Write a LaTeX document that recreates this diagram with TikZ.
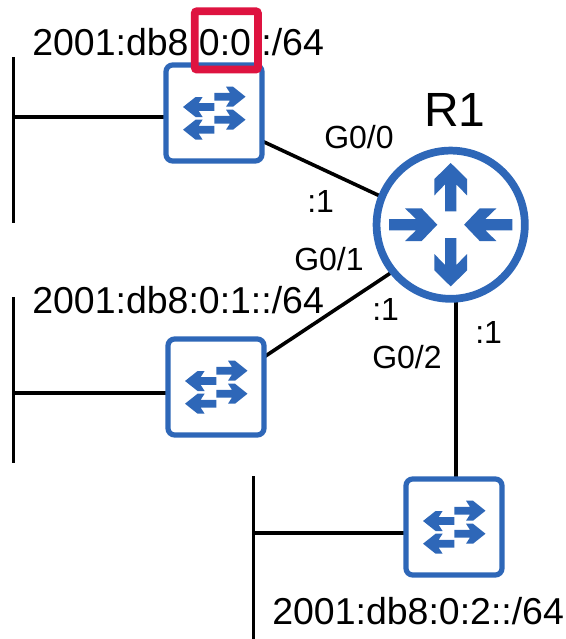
\documentclass[tikz,border=0pt]{standalone}
\usepackage{fontspec}
\setmainfont{Liberation Sans}
\usetikzlibrary{backgrounds}
\definecolor{ciscoblue}{HTML}{2E67B8}
\definecolor{markred}{HTML}{DE1340}
\tikzset{
  x=0.75pt,y=-0.75pt,
  wire/.style={draw=black,line width=2.7pt},
  switchbox/.style={draw=ciscoblue,line width=3.9pt,fill=white,rounded corners=5pt,minimum width=72pt,minimum height=72pt,inner sep=0pt,outer sep=0pt},
  routerbox/.style={circle,draw=ciscoblue,line width=5.8pt,fill=white,minimum size=111.2pt,inner sep=0pt,outer sep=0pt},
  biglabel/.style={anchor=base west,inner sep=0pt,font=\fontsize{28.1}{30}\selectfont},
  smalllabel/.style={anchor=base west,inner sep=0pt,font=\fontsize{24}{26}\selectfont},
  titlelabel/.style={anchor=base west,inner sep=0pt,font=\fontsize{36}{38}\selectfont},
  swicon/.pic={
    \foreach \dy in {-16.3,6.7}{
      \fill[ciscoblue] (0.3,\dy-3.8) -- (16,\dy-3.8) -- (12,\dy-10) -- (19,\dy-10) -- (31.5,\dy) -- (19,\dy+10) -- (12,\dy+10) -- (16,\dy+3.8) -- (0.3,\dy+3.8) -- cycle;
    }
    \foreach \dy in {-6,16.7}{
      \fill[ciscoblue] (0.3,\dy-3.8) -- (-15.4,\dy-3.8) -- (-11.4,\dy-10) -- (-18.4,\dy-10) -- (-31,\dy) -- (-18.4,\dy+10) -- (-11.4,\dy+10) -- (-15.4,\dy+3.8) -- (0.3,\dy+3.8) -- cycle;
    }
  },
  routericon/.pic={
    \foreach \sx in {-1,1}{
      \fill[ciscoblue] (0,\sx*61.7) -- (16.3,\sx*45.7) -- (16.3,\sx*29.3) -- (5.7,\sx*40.3) -- (5.7,\sx*13.3) -- (-5.7,\sx*13.3) -- (-5.7,\sx*40.3) -- (-16.3,\sx*29.3) -- (-16.3,\sx*45.7) -- cycle;
      \fill[ciscoblue] (\sx*13.4,0) -- (\sx*29,16.3) -- (\sx*45.7,16.3) -- (\sx*34.7,5.7) -- (\sx*61.7,5.7) -- (\sx*61.7,-5.7) -- (\sx*34.7,-5.7) -- (\sx*45.7,-16.3) -- (\sx*29,-16.3) -- cycle;
    }
  }
}
\begin{document}
\begin{tikzpicture}
\useasboundingbox (0,0) rectangle (566,639);
\node[routerbox] (R) at (450.7,224.7) {};
\pic at (R) {routericon};
\node[switchbox] (sw1) at (214,113) {};
\pic at (sw1) {swicon};
\node[switchbox] (sw2) at (216,387) {};
\pic at (sw2) {swicon};
\node[switchbox] (sw3) at (454,527) {};
\pic at (sw3) {swicon};
\coordinate (bus1top) at (13.5,57);
\coordinate (bus1bot) at (13.5,223);
\coordinate (bus1mid) at (13.5,117);
\coordinate (bus2top) at (13.5,297);
\coordinate (bus2bot) at (13.5,463);
\coordinate (bus2mid) at (13.5,393);
\coordinate (bus3top) at (253.5,476);
\coordinate (bus3bot) at (253.5,639);
\coordinate (bus3mid) at (253.5,533);
\begin{pgfonlayer}{background}
\draw[wire] (bus1top) -- (bus1bot);
\draw[wire] (bus2top) -- (bus2bot);
\draw[wire] (bus3top) -- (bus3bot);
\draw[wire] (bus1mid) -- (bus1mid -| sw1.west);
\draw[wire] (bus2mid) -- (bus2mid -| sw2.west);
\draw[wire] (bus3mid) -- (bus3mid -| sw3.west);
\draw[wire] ([yshift=-21pt]sw1.east) -- (R.158.5);
\draw[wire] ([yshift=22.5pt]sw2.east) -- (R.219.6);
\draw[wire] ([xshift=1.5pt]sw3.north) -- ([xshift=1.5pt]sw3.north |- R.south);
\end{pgfonlayer}
\node[titlelabel] (rname) at (424,126) {R1};
\node[biglabel] (net0) at (32,55) {2001:db8:0:0::/64};
\node[biglabel] (net1) at (32,313) {2001:db8:0:1::/64};
\node[biglabel] (net2) at (272,624) {2001:db8:0:2::/64};
\node[smalllabel] (g0) at (324,148) {G0/0};
\node[smalllabel] (g1) at (294,270) {G0/1};
\node[smalllabel] (g2) at (372,368) {G0/2};
\node[smalllabel] (a0) at (307,212) {:1};
\node[smalllabel] (a1) at (372,320) {:1};
\node[smalllabel] (a2) at (475,343) {:1};
\draw[markred,line width=5.8pt,rounded corners=1.5pt] (194.8,11.3) rectangle (257.9,69.5);
\end{tikzpicture}
\end{document}
